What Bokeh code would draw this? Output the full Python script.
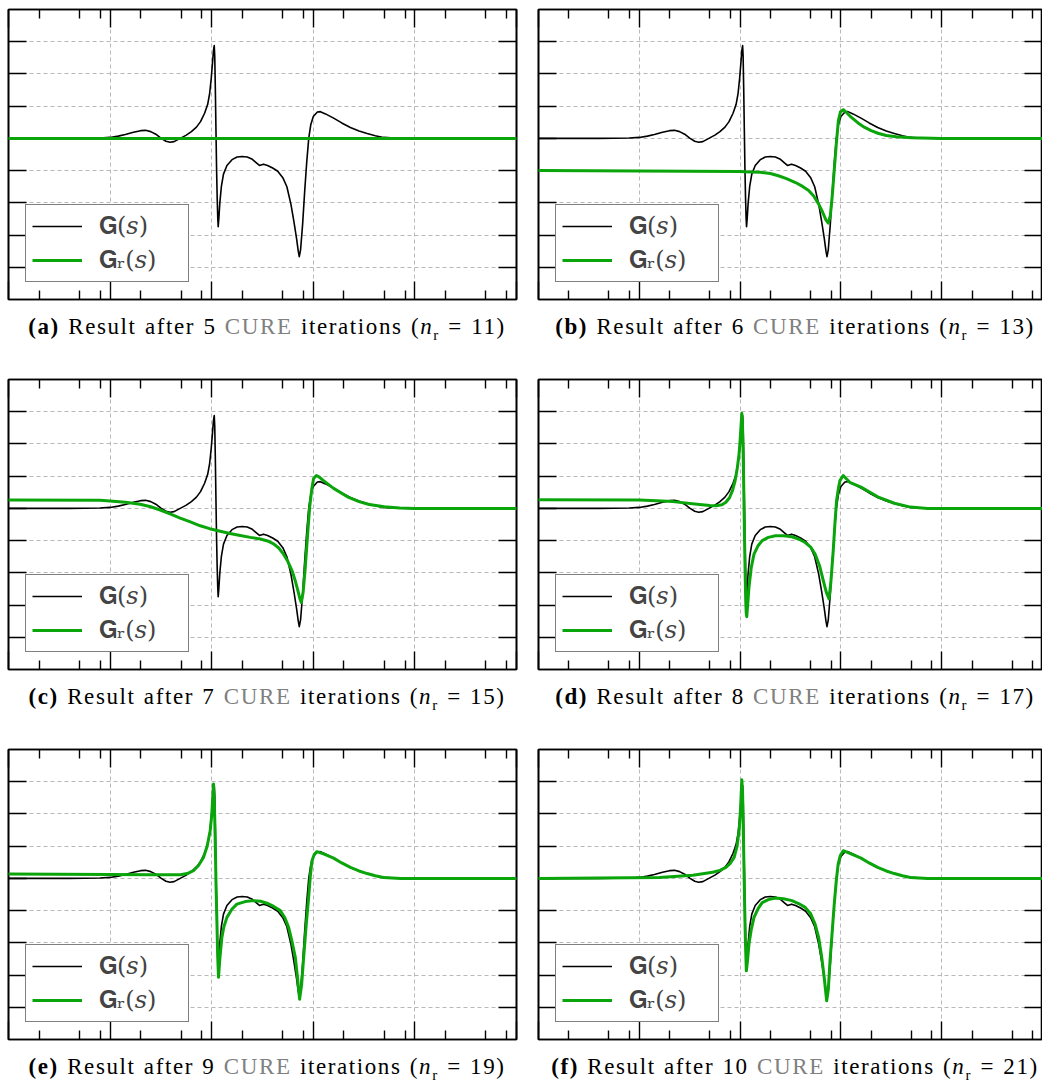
import numpy as np
from bokeh.plotting import figure
from bokeh.models import (Range1d, FixedTicker, LogAxis, LinearAxis, Legend,
                          LegendItem, Div, CustomJSTickFormatter)
from bokeh.layouts import column, row
from bokeh.core.properties import value
from bokeh.embed import file_html
from bokeh.resources import INLINE

# ---------------- data (x = log10 of frequency, y = response) ----------------
G_logw = [0, 0.6, 0.9, 1.0, 1.08, 1.15, 1.23, 1.30, 1.35, 1.40, 1.45, 1.50, 1.55,
          1.59, 1.63, 1.69, 1.75, 1.80, 1.85, 1.89, 1.93, 1.96, 1.98, 1.995, 2.008,
          2.018, 2.025, 2.030, 2.036, 2.042, 2.048, 2.054, 2.060, 2.064, 2.070, 2.080,
          2.095, 2.116, 2.15, 2.20, 2.25, 2.30, 2.35, 2.40, 2.44, 2.47, 2.51, 2.55,
          2.60, 2.65, 2.70, 2.74, 2.78, 2.81, 2.835, 2.852, 2.862, 2.875, 2.895,
          2.915, 2.935, 2.955, 2.975, 3.0, 3.04, 3.07, 3.12, 3.20, 3.28, 3.365, 3.45,
          3.53, 3.61, 3.69, 3.80, 4.0, 5.0]
G_vals = [0, 0, 0.01, 0.03, 0.07, 0.12, 0.19, 0.24, 0.25, 0.21, 0.13, 0.01, -0.09,
          -0.12, -0.10, 0.0, 0.10, 0.21, 0.35, 0.52, 0.78, 1.05, 1.40, 1.85, 2.35,
          2.75, 2.88, 2.55, 1.5, 0.25, -0.95, -1.85, -2.5, -2.74, -2.5, -2.0,
          -1.5, -1.11, -0.84, -0.66, -0.58, -0.56, -0.58, -0.65, -0.76, -0.84, -0.80,
          -0.84, -0.92, -1.02, -1.22, -1.5, -2.05, -2.6, -3.1, -3.5, -3.67, -3.45,
          -2.66, -1.65, -0.75, 0.0, 0.42, 0.68, 0.82, 0.83, 0.76, 0.63, 0.48, 0.34,
          0.23, 0.15, 0.08, 0.03, 0.01, 0.0, 0.0]

Gr_a_logw = [0, 5.0]
Gr_a_vals = [0, 0]

Gr_b_logw = [0, 1.0, 1.5, 2.0, 2.1, 2.2, 2.3, 2.38, 2.46, 2.55, 2.62, 2.68, 2.73,
             2.78, 2.82, 2.85, 2.875, 2.895, 2.915, 2.935, 2.955, 2.975, 2.995, 3.023,
             3.06, 3.104, 3.17, 3.236, 3.30, 3.367, 3.45, 3.55, 3.7, 4.0, 5.0]
Gr_b_vals = [-1.0, -1.01, -1.02, -1.03, -1.04, -1.05, -1.09, -1.16, -1.25, -1.37,
             -1.49, -1.62, -1.79, -2.04, -2.3, -2.52, -2.63, -2.4, -1.75, -0.95,
             -0.15, 0.55, 0.82, 0.89, 0.79, 0.65, 0.48, 0.34, 0.24, 0.16, 0.09, 0.05,
             0.02, 0.0, 0.0]

Gr_c_logw = [0, 0.9, 1.0, 1.15, 1.296, 1.40, 1.493, 1.59, 1.69, 1.79, 1.887, 1.98,
             2.084, 2.18, 2.281, 2.38, 2.478, 2.55, 2.609, 2.66, 2.707, 2.75, 2.79,
             2.82, 2.849, 2.868, 2.882, 2.90, 2.921, 2.943, 2.964, 2.985, 3.003, 3.03,
             3.06, 3.10, 3.20, 3.348, 3.45, 3.55, 3.7, 3.85, 4.0, 5.0]
Gr_c_vals = [0.26, 0.25, 0.23, 0.19, 0.13, 0.05, -0.05, -0.17, -0.30, -0.42, -0.54,
             -0.63, -0.71, -0.78, -0.84, -0.90, -0.95, -1.01, -1.1, -1.23, -1.42,
             -1.65, -1.93, -2.22, -2.56, -2.8, -2.92, -2.6, -1.83, -0.85, 0.03, 0.6,
             0.93, 1.02, 0.97, 0.86, 0.62, 0.34, 0.21, 0.12, 0.05, 0.01, 0.0, 0.0]

Gr_d_logw = [0, 1.0, 1.335, 1.597, 1.70, 1.761, 1.82, 1.859, 1.895, 1.924, 1.95,
             1.973, 1.99, 2.0, 2.01, 2.017, 2.023, 2.03, 2.037, 2.043, 2.05, 2.056,
             2.061, 2.066, 2.075, 2.088, 2.11, 2.138, 2.18, 2.219, 2.28, 2.351, 2.43,
             2.514, 2.58, 2.646, 2.70, 2.744, 2.79, 2.826, 2.855, 2.882, 2.90, 2.924,
             2.94, 2.957, 2.975, 2.99, 3.023, 3.088, 3.2, 3.365, 3.53, 3.69, 3.86, 5.0]
Gr_d_vals = [0.27, 0.26, 0.21, 0.12, 0.09, 0.08, 0.11, 0.19, 0.33, 0.55, 0.85, 1.27,
             1.7, 2.1, 2.6, 2.95, 2.7, 1.79, 0.5, -0.80, -2.0, -2.87, -3.25, -3.36,
             -3.0, -2.45, -1.85, -1.42, -1.15, -1.0, -0.9, -0.85, -0.85, -0.88, -0.95,
             -1.06, -1.2, -1.42, -1.8, -2.25, -2.6, -2.81, -2.3, -1.31, -0.5, 0.24,
             0.62, 0.86, 1.02, 0.81, 0.66, 0.36, 0.16, 0.04, 0.0, 0.0]

Gr_e_logw = [0, 1.0, 1.394, 1.69, 1.76, 1.82, 1.87, 1.919, 1.955, 1.985, 2.0, 2.01,
             2.018, 2.026, 2.034, 2.042, 2.051, 2.059, 2.067, 2.08, 2.1, 2.12, 2.15,
             2.2, 2.248, 2.33, 2.412, 2.48, 2.544, 2.61, 2.675, 2.72, 2.757, 2.79,
             2.823, 2.845, 2.865, 2.885, 2.905, 2.93, 2.954, 2.97, 2.987, 3.01, 3.036,
             3.1, 3.2, 3.28, 3.365, 3.45, 3.53, 3.61, 3.69, 3.86, 5.0]
Gr_e_vals = [0.14, 0.12, 0.11, 0.11, 0.15, 0.24, 0.40, 0.65, 1.0, 1.48, 1.95, 2.5,
             2.93, 2.4, 1.27, -0.1, -1.31, -2.4, -3.07, -2.5, -1.83, -1.5, -1.21,
             -0.95, -0.80, -0.72, -0.69, -0.71, -0.77, -0.87, -1.0, -1.22, -1.52,
             -1.95, -2.45, -3.1, -3.75, -3.3, -2.45, -1.45, -0.59, 0.05, 0.55, 0.75,
             0.83, 0.76, 0.63, 0.48, 0.34, 0.23, 0.15, 0.08, 0.03, 0.0, 0.0]

Gr_f_logw = [0, 1.2, 1.531, 1.728, 1.80, 1.859, 1.90, 1.941, 1.97, 1.99, 2.005,
             2.017, 2.025, 2.033, 2.04, 2.046, 2.054, 2.062, 2.072, 2.088, 2.11, 2.138,
             2.18, 2.219, 2.28, 2.351, 2.43, 2.514, 2.58, 2.646, 2.70, 2.744, 2.78,
             2.81, 2.835, 2.859, 2.875, 2.892, 2.915, 2.934, 2.955, 2.973, 2.995,
             3.023, 3.1, 3.2, 3.28, 3.365, 3.45, 3.53, 3.61, 3.69, 3.86, 5.0]
Gr_f_vals = [0, 0.03, 0.10, 0.19, 0.25, 0.34, 0.46, 0.65, 1.0, 1.48, 2.2, 3.06, 2.6,
             1.27, 0.1, -1.0, -2.1, -2.87, -2.6, -2.04, -1.6, -1.21, -0.93, -0.75,
             -0.66, -0.61, -0.63, -0.69, -0.78, -0.90, -1.1, -1.42, -1.85, -2.45, -3.1,
             -3.8, -3.45, -2.56, -1.6, -0.8, -0.05, 0.45, 0.72, 0.86, 0.76, 0.63, 0.48,
             0.34, 0.23, 0.15, 0.08, 0.03, 0.0, 0.0]

panel_letters = ["a", "b", "c", "d", "e", "f"]
cure_iterations = [5, 6, 7, 8, 9, 10]
reduced_orders = [11, 13, 15, 17, 19, 21]
legend_labels = ["\U0001D406(\U0001D460)", "\U0001D406\u1D63(\U0001D460)"]

x_major_ticks = [1, 10, 100, 1000, 10000, 100000]
x_minor_ticks = [m * 10 ** k for k in range(5) for m in (2, 5, 8)]
y_ticks = [-4, -3, -2, -1, 0, 1, 2, 3]

GREEN = "#0aa50a"
GRID = "#b8b8b8"
CAP_FONT = "Liberation Serif"
LEG_FONT = "DejaVu Serif"

green_sets = [(Gr_a_logw, Gr_a_vals), (Gr_b_logw, Gr_b_vals), (Gr_c_logw, Gr_c_vals),
              (Gr_d_logw, Gr_d_vals), (Gr_e_logw, Gr_e_vals), (Gr_f_logw, Gr_f_vals)]


def style_axis(ax, is_x):
    ax.formatter = CustomJSTickFormatter(code="return ' '")
    ax.major_label_text_font_size = "1px"
    ax.major_label_text_color = None
    ax.major_label_standoff = 0
    ax.axis_line_color = "black"
    ax.axis_line_width = 1.6
    ax.major_tick_line_color = "black"
    ax.major_tick_line_width = 1.4
    ax.major_tick_out = 0
    ax.major_tick_in = 18
    ax.minor_tick_line_color = "black"
    ax.minor_tick_line_width = 1.4
    ax.minor_tick_out = 0
    ax.minor_tick_in = 9
    if is_x:
        ax.ticker = FixedTicker(ticks=x_major_ticks, minor_ticks=x_minor_ticks)
    else:
        ax.ticker = FixedTicker(ticks=y_ticks, minor_ticks=[])


def make_panel(fw, gl, gv, mb_left, mb_right, mb_top, mb_bottom):
    p = figure(frame_width=fw, frame_height=290, x_axis_type="log",
               x_range=Range1d(1, 1e5), y_range=Range1d(-5, 4),
               output_backend="svg", toolbar_location=None,
               min_border_left=mb_left, min_border_right=mb_right,
               min_border_top=mb_top, min_border_bottom=mb_bottom)
    p.add_layout(LogAxis(), "above")
    p.add_layout(LinearAxis(), "right")
    for ax in p.xaxis:
        style_axis(ax, True)
    for ax in p.yaxis:
        style_axis(ax, False)
    p.outline_line_color = "black"
    p.outline_line_width = 1.6
    for g in (p.xgrid[0], p.ygrid[0]):
        g.grid_line_color = GRID
        g.grid_line_dash = "4 3"
        g.grid_line_width = 1
    p.xgrid[0].ticker = FixedTicker(ticks=x_major_ticks[1:-1])
    p.ygrid[0].ticker = FixedTicker(ticks=y_ticks)

    rb = p.line(10 ** np.array(G_logw), G_vals, line_color="black", line_width=1.6,
                line_join="round", level="overlay")
    rg = p.line(10 ** np.array(gl), gv, line_color=GREEN, line_width=3,
                line_join="round", level="overlay")

    legend = Legend(items=[LegendItem(label=value(legend_labels[0]), renderers=[rb]),
                           LegendItem(label=value(legend_labels[1]), renderers=[rg])],
                    location=(17, 17))
    legend.label_text_font = LEG_FONT
    legend.label_text_font_size = "24px"
    legend.glyph_width = 50
    legend.glyph_height = 30
    legend.label_height = 30
    legend.label_width = 83
    legend.label_standoff = 17
    legend.spacing = 4
    legend.padding = 6
    legend.margin = 0
    legend.border_line_color = "black"
    legend.border_line_width = 1.2
    legend.background_fill_color = "white"
    legend.background_fill_alpha = 1.0
    p.add_layout(legend)
    return p


def make_caption(i, left, w, h):
    html = ('<div style="margin-left:%dpx;width:%dpx;text-align:center;'
            'font-family:\'%s\';font-size:23px;line-height:25px;color:#000;'
            'padding-top:0px;white-space:nowrap;letter-spacing:1.6px;word-spacing:1px">'
            '<b>(%s)</b> Result after %d <span style="color:#808080">CURE</span> '
            'iterations (<i>n</i><sub style="font-size:15px;line-height:0">r</sub> = %d)</div>'
            % (left, w, CAP_FONT, panel_letters[i], cure_iterations[i],
               reduced_orders[i]))
    return Div(text=html, width=left + w, height=h)


rows = []
for r in range(3):
    cells = []
    for c in range(2):
        i = 2 * r + c
        if c == 0:
            fw, ml, mr = 508, 8, 10
        else:
            fw, ml, mr = 504, 12, 0
        mt = 9 if r == 0 else 10
        p = make_panel(fw, *green_sets[i], ml, mr, mt, 10)
        cap = make_caption(i, ml, fw, 50 if r < 2 else 24)
        cells.append(column(p, cap, spacing=0))
    rows.append(row(cells[0], cells[1], spacing=0))

layout = column(*rows, spacing=0)

open("out.html", "w").write(file_html(layout, INLINE))
